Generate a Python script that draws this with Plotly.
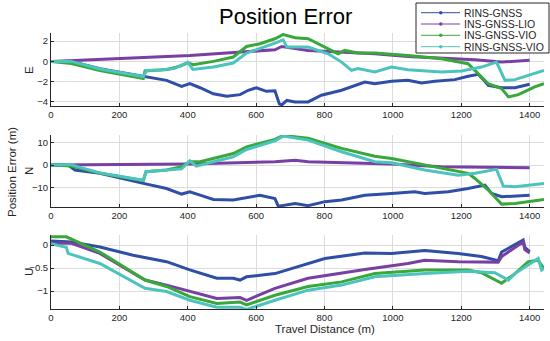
import plotly.graph_objects as go

# ---------------- data ----------------
names = ["RINS-GNSS", "INS-GNSS-LIO", "INS-GNSS-VIO", "RINS-GNSS-VIO"]
colors = ["#2f4ea6", "#7a3fa3", "#38a83a", "#4cc3bd"]

# East
e_blue_x = [0, 60, 143, 270, 338, 382, 406, 436, 475, 514, 553, 577, 601, 630, 655, 668, 675, 690, 714, 752, 791, 850, 918, 947, 996, 1044, 1084, 1123, 1181, 1220, 1250, 1262, 1279, 1318, 1357, 1400]
e_blue_y = [0, 0, -0.72, -1.47, -1.87, -2.46, -2.2, -2.6, -3.2, -3.44, -3.28, -2.85, -2.6, -2.95, -2.9, -4.2, -4.3, -3.85, -4.0, -4.0, -3.34, -2.85, -2.03, -2.2, -1.97, -1.87, -2.13, -1.97, -1.8, -1.47, -1.28, -1.7, -2.36, -2.6, -2.6, -2.26]
e_purp_x = [0, 200, 406, 655, 675, 752, 850, 947, 1044, 1142, 1240, 1318, 1400]
e_purp_y = [0, 0.3, 0.59, 1.15, 1.47, 1.08, 0.92, 0.75, 0.49, 0.36, 0.17, -0.07, 0.1]
e_green_x = [0, 60, 143, 270, 275, 340, 380, 400, 416, 475, 533, 572, 611, 655, 679, 714, 752, 801, 840, 859, 898, 947, 1044, 1142, 1220, 1240, 1279, 1318, 1338, 1367, 1415, 1442]
e_green_y = [0, -0.2, -0.9, -1.7, -0.95, -0.8, -0.45, -0.15, -0.33, 0.0, 0.43, 1.47, 1.74, 2.23, 2.65, 2.33, 2.23, 1.41, 0.75, 1.08, 0.82, 0.82, 0.59, 0.26, -0.23, -0.88, -2.2, -2.69, -3.5, -3.28, -2.52, -2.2]
e_cyan_x = [0, 60, 143, 270, 280, 320, 360, 400, 415, 475, 533, 572, 655, 679, 690, 752, 811, 850, 879, 898, 947, 996, 1044, 1142, 1201, 1259, 1303, 1328, 1357, 1442]
e_cyan_y = [0, 0, -0.75, -1.5, -0.9, -0.85, -0.7, -0.1, -0.8, -0.56, -0.16, 0.82, 1.8, 2.13, 1.41, 1.41, 0.75, -0.07, -0.88, -0.7, -1.05, -0.56, -0.82, -1.05, -0.95, -0.56, -0.07, -1.87, -1.8, -0.88]

# North
n_blue_x = [0, 50, 70, 143, 270, 338, 382, 406, 436, 475, 533, 572, 611, 655, 665, 675, 714, 752, 801, 850, 918, 996, 1064, 1093, 1162, 1220, 1269, 1289, 1318, 1400]
n_blue_y = [0, 0, -2.2, -3.7, -8.2, -10.5, -13, -12, -13.5, -15.4, -15.7, -14.5, -13.5, -15, -18.5, -18.2, -17.2, -18.2, -16.4, -15.7, -13.5, -12.7, -12, -12.7, -12, -10.5, -9, -12.7, -14.2, -13.5]
n_purp_x = [0, 200, 406, 655, 714, 752, 850, 996, 1142, 1259, 1400]
n_purp_y = [0, 0.1, 0.45, 1.5, 2.2, 1.5, 1.0, 0.45, -0.75, -1.0, -1.2]
n_green_x = [0, 60, 143, 270, 278, 338, 382, 406, 436, 475, 533, 572, 655, 679, 752, 850, 947, 996, 1093, 1220, 1240, 1279, 1318, 1357, 1442]
n_green_y = [0, -0.45, -3.7, -6.9, -3.0, -2.2, -0.7, 1.5, 1.5, 3.0, 5.2, 8.2, 11.5, 13.3, 12.0, 7.5, 4.0, 3.0, 0.0, -3.7, -6.0, -11.2, -17.5, -17.2, -15.4]
n_cyan_x = [0, 55, 143, 270, 278, 338, 382, 406, 425, 475, 533, 572, 655, 679, 752, 850, 947, 996, 1093, 1191, 1240, 1303, 1323, 1357, 1442]
n_cyan_y = [0, 0.3, -3.5, -6.8, -3.0, -2.2, -1.7, 1.9, -0.45, 1.5, 3.7, 7.0, 10.9, 13.0, 11.2, 6.0, 1.5, 1.0, -2.2, -4.5, -3.7, -1.9, -9.4, -9.7, -8.2]

# Up
u_blue_x = [0, 60, 143, 240, 338, 406, 485, 533, 553, 572, 655, 752, 801, 918, 996, 1093, 1191, 1259, 1308, 1318, 1381, 1386, 1400]
u_blue_y = [0.09, 0.07, -0.04, -0.22, -0.36, -0.54, -0.72, -0.72, -0.76, -0.69, -0.62, -0.4, -0.29, -0.17, -0.18, -0.12, -0.18, -0.25, -0.34, -0.15, 0.11, -0.05, -0.14]
u_purp_x = [0, 60, 143, 275, 338, 406, 485, 553, 572, 655, 752, 918, 1044, 1093, 1191, 1308, 1318, 1381, 1386, 1400]
u_purp_y = [0.04, 0.04, -0.18, -0.76, -0.87, -1.01, -1.16, -1.14, -1.2, -0.94, -0.72, -0.53, -0.4, -0.33, -0.36, -0.37, -0.25, 0.07, -0.1, -0.17]
u_green_x = [0, 45, 143, 275, 338, 406, 485, 553, 572, 655, 752, 850, 947, 1093, 1220, 1259, 1318, 1357, 1396, 1425, 1442]
u_green_y = [0.18, 0.18, -0.15, -0.76, -0.9, -1.12, -1.27, -1.24, -1.3, -1.09, -0.9, -0.8, -0.62, -0.54, -0.54, -0.6, -0.83, -0.62, -0.36, -0.33, -0.51]
u_cyan_x = [0, 45, 50, 143, 275, 338, 406, 485, 553, 572, 655, 752, 850, 947, 1093, 1220, 1298, 1338, 1357, 1425, 1435, 1442]
u_cyan_y = [0.03, -0.05, -0.18, -0.4, -0.94, -1.01, -1.2, -1.35, -1.35, -1.4, -1.2, -0.98, -0.87, -0.69, -0.62, -0.57, -0.6, -0.76, -0.62, -0.29, -0.54, -0.5]

x_ticks = [0, 200, 400, 600, 800, 1000, 1200, 1400]
e_ticks = [-4, -2, 0, 2]
n_ticks = [-10, 0, 10]
u_ticks = [-1, -0.5, 0]

# ---------------- figure ----------------
W, H = 550, 341
fig = go.Figure()
FONT = "Liberation Sans, Arial, sans-serif"
TXT = "#262626"

panels = [
    ("", "y", [(e_blue_x, e_blue_y), (e_purp_x, e_purp_y), (e_green_x, e_green_y), (e_cyan_x, e_cyan_y)]),
    ("2", "y2", [(n_blue_x, n_blue_y), (n_purp_x, n_purp_y), (n_green_x, n_green_y), (n_cyan_x, n_cyan_y)]),
    ("3", "y3", [(u_blue_x, u_blue_y), (u_purp_x, u_purp_y), (u_green_x, u_green_y), (u_cyan_x, u_cyan_y)]),
]
for suf, yref, series in panels:
    for (xs, ys), c, nm in zip(series, colors, names):
        fig.add_trace(go.Scatter(x=xs, y=ys, mode="lines", line=dict(color=c, width=3),
                                 xaxis="x" + suf, yaxis=yref, showlegend=False, name=nm))


def px2x(p):
    return p / W


def px2y(p):
    return 1 - p / H


xdom = [px2x(51), px2x(544)]
ydoms = [[px2y(106), px2y(33)], [px2y(207), px2y(135)], [px2y(309), px2y(235)]]
yranges = [[-4.4, 2.8], [-18.8, 13.5], [-1.39, 0.22]]
yticks = [e_ticks, n_ticks, u_ticks]

axis_common = dict(showgrid=True, gridcolor="#dcdcdc", gridwidth=1, showline=True, linecolor=TXT,
                   linewidth=1, ticks="inside", ticklen=3, tickcolor=TXT, zeroline=False,
                   automargin=False, tickfont=dict(family=FONT, size=9.5, color=TXT))
layout = {}
for i, suf in enumerate(["", "2", "3"]):
    layout["xaxis" + suf] = dict(domain=xdom, range=[0, 1442], tickvals=x_ticks, anchor="y" + suf,
                                 **axis_common)
    layout["yaxis" + suf] = dict(domain=ydoms[i], range=yranges[i], tickvals=yticks[i],
                                 anchor="x" + suf, **axis_common)
fig.update_layout(**layout)

# manual legend (MATLAB-style compact box)
shapes = [dict(type="rect", xref="paper", yref="paper", x0=px2x(416), x1=px2x(549),
               y0=px2y(53), y1=px2y(3), line=dict(color=TXT, width=1), fillcolor="white", layer="above")]
annots = []
rows = [12.7, 24, 35.3, 46.7]
for c, nm, ry in zip(colors, names, rows):
    shapes.append(dict(type="line", xref="paper", yref="paper", x0=px2x(421), x1=px2x(460),
                       y0=px2y(ry), y1=px2y(ry), line=dict(color=c, width=1), layer="above"))
    shapes.append(dict(type="circle", xref="paper", yref="paper", x0=px2x(439), x1=px2x(442.5),
                       y0=px2y(ry + 1.75), y1=px2y(ry - 1.75), line=dict(color=c, width=0),
                       fillcolor=c, layer="above"))
    annots.append(dict(text=nm, x=px2x(462), y=px2y(ry), xref="paper", yref="paper",
                       xanchor="left", yanchor="middle", showarrow=False,
                       font=dict(family=FONT, size=10.5, color=TXT)))

def lab(text, x, y, size, angle=0, color=TXT):
    return dict(text=text, x=px2x(x), y=px2y(y), xref="paper", yref="paper", xanchor="center",
                yanchor="middle", showarrow=False, textangle=angle,
                font=dict(family=FONT, size=size, color=color))

annots += [
    lab("Position Error", 285, 17, 22, color="#000"),
    lab("Position Error (m)", 12, 172, 11.5, -90),
    lab("Travel Distance (m)", 325, 329, 11.5),
    lab("E", 29, 70, 11.5, -90),
    lab("N", 29, 171, 11.5, -90),
    lab("U", 29, 272, 11.5, -90),
]

fig.update_layout(
    width=W, height=H, margin=dict(l=0, r=0, t=0, b=0, autoexpand=False),
    paper_bgcolor="white", plot_bgcolor="white", showlegend=False,
    font=dict(family=FONT, color=TXT),
    shapes=shapes, annotations=annots,
)

fig.write_html("out.html", config={"displayModeBar": False},
               post_script="document.body.style.margin='0';document.body.style.overflow='hidden';")
